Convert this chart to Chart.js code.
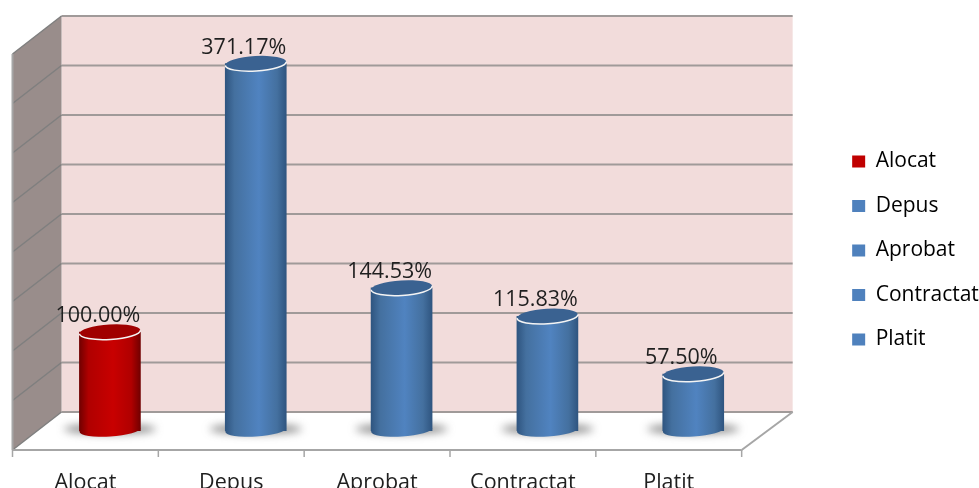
<!DOCTYPE html>
<html>
<head>
<meta charset="utf-8">
<title>Alocat</title>
<script src="https://cdn.jsdelivr.net/npm/chart.js@4/dist/chart.umd.min.js"></script>
<style>
  html, body { margin: 0; background: #fff; overflow: hidden; }
  canvas { display: block; filter: blur(0.4px); }
</style>
</head>
<body>
<canvas id="chart" width="979" height="488"></canvas>
<script>
const categories = ['Alocat', 'Depus', 'Aprobat', 'Contractat', 'Platit']
const values = [100.00, 371.17, 144.53, 115.83, 57.50]
const axisMax = 400
const axisStep = 50

const FONT = '"Open Sans", sans-serif'
const FONT_SIZE = 21.5
const LEGEND_SIZE = 21
const TEXT = '#1f1f1f'
const RED = { edge: '#720000', side: '#b00000', mid: '#c80000', cap: '#a00000', legend: '#c00000' }
const BLUE = { edge: '#2f5580', side: '#44709f', mid: '#5083c0', cap: '#3a6291', legend: '#4f81bd' }
const colorOf = i => i === 0 ? RED : BLUE

// depth of the fake 3d box: the bars stand half way between front and back
const DX = 24.5
const DY = 19

function line(ctx, x1, y1, x2, y2) {
    ctx.beginPath()
    ctx.moveTo(x1, y1)
    ctx.lineTo(x2, y2)
    ctx.stroke()
}

function poly(ctx, pts, fill) {
    ctx.beginPath()
    pts.forEach((p, i) => i ? ctx.lineTo(p[0], p[1]) : ctx.moveTo(p[0], p[1]))
    ctx.closePath()
    ctx.fillStyle = fill
    ctx.fill()
}

const box3d = {
    id: 'box3d',
    beforeDatasetsDraw(chart) {
        const { ctx, scales: { x, y } } = chart
        const bottom = y.getPixelForValue(0)
        const top = y.getPixelForValue(axisMax)
        const bl = x.left - DX, br = x.right - DX
        // back wall runs a little wider than the front edge
        const wl = x.left + DX, wr = x.right + DX + 2
        ctx.save()
        poly(ctx, [[wl, top - DY], [wr, top - DY], [wr, bottom - DY], [wl, bottom - DY]], '#f2dcdb')
        poly(ctx, [[bl, top + DY], [wl, top - DY], [wl, bottom - DY], [bl, bottom + DY]], '#998d8b')

        y.ticks.forEach(t => {
            const py = y.getPixelForValue(t.value)
            ctx.strokeStyle = '#a09a99'
            ctx.lineWidth = 2
            line(ctx, wl, py - DY, wr, py - DY)
            ctx.strokeStyle = '#7f7f7f'
            ctx.lineWidth = 1.5
            line(ctx, bl, py + DY, wl, py - DY)
        })

        // floor edges and the ticks under it
        ctx.strokeStyle = '#a6a6a6'
        ctx.lineWidth = 2
        line(ctx, bl, bottom + DY, br, bottom + DY)
        line(ctx, br, bottom + DY, wr, bottom - DY)
        line(ctx, bl, top + DY, bl, bottom + DY)
        const step = x.width / categories.length
        ctx.lineWidth = 1.5
        for (let i = 0; i <= categories.length; i++) {
            const px = x.left - DX + step * i
            line(ctx, px, bottom + DY, px, bottom + DY + 7)
        }

        // shadows on the floor
        ctx.filter = 'blur(4px)'
        ctx.fillStyle = 'rgba(70,70,70,0.65)'
        chart.getDatasetMeta(0).data.forEach(bar => {
            ctx.beginPath()
            ctx.ellipse(bar.x, bar.base - 2, 46, 5, 0, 0, Math.PI * 2)
            ctx.fill()
        })
        ctx.restore()
    },
    afterDatasetsDraw(chart) {
        const { ctx } = chart
        const tilt = -0.06
        ctx.save()
        chart.getDatasetMeta(0).data.forEach((bar, i) => {
            const rx = bar.width / 2
            const ry = 7.5
            const c = colorOf(i)

            // rounded bottom of the cylinder
            ctx.beginPath()
            ctx.ellipse(bar.x, bar.base - 1, rx, ry - 1, tilt, 0, Math.PI * 2)
            ctx.fillStyle = bar.options.backgroundColor
            ctx.fill()

            // top cap
            ctx.beginPath()
            ctx.ellipse(bar.x, bar.y, rx, ry, tilt, 0, Math.PI * 2)
            ctx.fillStyle = c.cap
            ctx.fill()
            ctx.beginPath()
            ctx.ellipse(bar.x, bar.y, rx, ry, tilt, 0, Math.PI)
            ctx.strokeStyle = '#f4f4f4'
            ctx.lineWidth = 1.5
            ctx.stroke()

            ctx.fillStyle = TEXT
            ctx.font = FONT_SIZE + 'px ' + FONT
            ctx.textAlign = 'center'
            ctx.textBaseline = 'middle'
            ctx.fillText(values[i].toFixed(2) + '%', bar.x - 12, bar.y - 16)
        })
        ctx.restore()
    }
}

new Chart(document.getElementById('chart'), {
    type: 'bar',
    data: {
        labels: categories,
        datasets: [{
            label: 'Alocat',
            data: values,
            barThickness: 61,
            borderWidth: 0,
            backgroundColor(context) {
                const c = colorOf(context.dataIndex)
                const px = context.chart.scales.x.getPixelForValue(context.dataIndex)
                const g = context.chart.ctx.createLinearGradient(px - 30.5, 0, px + 30.5, 0)
                g.addColorStop(0, c.edge)
                g.addColorStop(0.15, c.side)
                g.addColorStop(0.55, c.mid)
                g.addColorStop(0.85, c.side)
                g.addColorStop(1, c.edge)
                return g
            }
        }]
    },
    plugins: [box3d],
    options: {
        responsive: false,
        animation: false,
        layout: { padding: { left: 37, top: 13, right: -8, bottom: 0 } },
        scales: {
            x: {
                grid: { display: false },
                border: { display: false },
                afterFit(scale) { scale.height = 57 },
                ticks: {
                    color: TEXT,
                    font: { family: FONT, size: FONT_SIZE },
                    padding: 31,
                    labelOffset: -DX,
                    maxRotation: 0
                }
            },
            y: {
                min: 0,
                max: axisMax,
                grid: { display: false },
                border: { display: false },
                afterFit(scale) { scale.width = 0 },
                ticks: { display: false, stepSize: axisStep }
            },
            // empty axes only hold room for the box and the legend gap
            spaceTop: {
                position: 'top',
                type: 'category',
                labels: [''],
                grid: { display: false },
                border: { display: false },
                ticks: { display: false },
                afterFit(scale) { scale.height = 22 }
            },
            spaceRight: {
                position: 'right',
                grid: { display: false },
                border: { display: false },
                ticks: { display: false },
                afterFit(scale) { scale.width = 62.5 }
            }
        },
        plugins: {
            tooltip: { enabled: false },
            legend: {
                position: 'right',
                onClick: null,
                labels: {
                    color: TEXT,
                    font: { family: FONT, size: LEGEND_SIZE },
                    boxWidth: 13,
                    boxHeight: 12,
                    padding: 23.5,
                    generateLabels() {
                        return categories.map((name, i) => ({
                            text: name,
                            fillStyle: colorOf(i).legend,
                            strokeStyle: colorOf(i).legend,
                            lineWidth: 0,
                            index: i
                        }))
                    }
                }
            }
        }
    }
})
</script>
</body>
</html>
